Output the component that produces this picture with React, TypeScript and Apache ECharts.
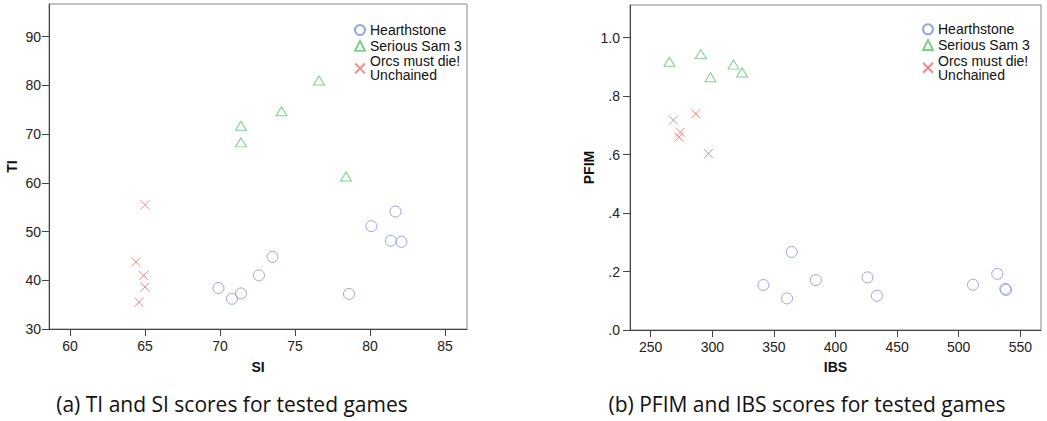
import React, { useEffect, useRef } from "react";
import * as echarts from "echarts";

// ---- Data: panel (a) TI vs SI ----
const siTicks = [60, 65, 70, 75, 80, 85];
const tiTicks = [30, 40, 50, 60, 70, 80, 90];
const hearthSI = [69.9, 70.8, 71.4, 72.6, 73.5, 78.6, 80.1, 81.7, 81.4, 82.1];
const hearthTI = [38.4, 36.2, 37.3, 41.0, 44.8, 37.2, 51.1, 54.1, 48.1, 47.9];
const samSI = [71.4, 71.4, 74.1, 76.6, 78.4];
const samTI = [71.7, 68.3, 74.7, 81.0, 61.3];
const orcsSI = [65.0, 64.4, 64.9, 65.0, 64.6];
const orcsTI = [55.5, 43.8, 41.0, 38.6, 35.5];

// ---- Data: panel (b) PFIM vs IBS ----
const ibsTicks = [250, 300, 350, 400, 450, 500, 550];
const pfimTicks = [0, 0.2, 0.4, 0.6, 0.8, 1.0];
const hearthIBS = [341.5, 360.7, 364.5, 384.0, 426.0, 433.6, 511.6, 531.3, 537.8, 538.4];
const hearthPFIM = [0.154, 0.108, 0.267, 0.171, 0.18, 0.117, 0.155, 0.192, 0.141, 0.137];
const samIBS = [265.2, 290.6, 298.5, 317.2, 324.2];
const samPFIM = [0.918, 0.944, 0.865, 0.908, 0.881];
const orcsIBS = [268.4, 274.1, 273.0, 286.6, 296.8];
const orcsPFIM = [0.718, 0.677, 0.66, 0.74, 0.604];

const seriesNames = ["Hearthstone", "Serious Sam 3", "Orcs must die!\nUnchained"];
const captions = ["(a) TI and SI scores for tested games", "(b) PFIM and IBS scores for tested games"];

const BLUE = "#7f92d3";
const GREEN = "#5dc46c";
const RED = "#f06a6a";
const AXIS = "#444";
const FONT = "'Liberation Sans', Arial, sans-serif";

const zip = (a: number[], b: number[]) => a.map((v, i) => [v, b[i]]);

const styles = [
  { symbol: "circle", symbolSize: 11, color: BLUE },
  { symbol: "triangle", symbolSize: [11, 9], color: GREEN },
  { symbol: "path://M0,0L10,10M10,0L0,10", symbolSize: 9, color: RED },
];

function makeSeries(idx: number, data: number[][][]) {
  return data.map((d, i) => ({
    type: "scatter",
    name: seriesNames[i],
    xAxisIndex: idx,
    yAxisIndex: idx,
    data: d,
    symbol: styles[i].symbol,
    symbolSize: styles[i].symbolSize,
    itemStyle: { color: "transparent", borderColor: styles[i].color, borderWidth: 1 },
    emphasis: { disabled: true },
  }));
}

const axisCommon = {
  axisLine: { show: true, lineStyle: { color: AXIS, width: 1 } },
  splitLine: { show: false },
  nameTextStyle: { fontFamily: FONT, fontWeight: "bold", fontSize: 14, color: "#111" },
};

export default function App() {
  const ref = useRef<HTMLDivElement>(null);
  useEffect(() => {
    if (!ref.current) return;
    const chart = echarts.init(ref.current, undefined, { renderer: "svg" });
    const legendCommon = {
      orient: "vertical",
      padding: 0,
      itemWidth: 10,
      itemHeight: 10,
      itemGap: 1.7,
      data: seriesNames,
      selectedMode: false,
      textStyle: { fontFamily: FONT, fontSize: 14, color: "#111", lineHeight: 14 },
    };
    chart.setOption({
      animation: false,
      grid: [
        { left: 49, top: 4, width: 418, height: 325, show: true, borderColor: "#888", borderWidth: 1 },
        { left: 630, top: 5, width: 411, height: 325, show: true, borderColor: "#888", borderWidth: 1 },
      ],
      legend: [
        { ...legendCommon, left: 354, top: 23 },
        { ...legendCommon, left: 922, top: 22.3 },
      ],
      xAxis: [
        {
          ...axisCommon,
          type: "value",
          gridIndex: 0,
          min: 58.6,
          max: 86.47,
          name: "SI",
          nameLocation: "middle",
          nameGap: 31,
          axisTick: { show: true, length: 7, customValues: siTicks, lineStyle: { color: AXIS } },
          axisLabel: { customValues: siTicks, margin: 10, fontFamily: FONT, fontSize: 14, color: "#222" },
        },
        {
          ...axisCommon,
          type: "value",
          gridIndex: 1,
          min: 233.2,
          max: 566.8,
          name: "IBS",
          nameLocation: "middle",
          nameGap: 30,
          axisTick: { show: true, length: 7, customValues: ibsTicks, lineStyle: { color: AXIS } },
          axisLabel: { customValues: ibsTicks, margin: 10, fontFamily: FONT, fontSize: 14, color: "#222" },
        },
      ],
      yAxis: [
        {
          ...axisCommon,
          type: "value",
          gridIndex: 0,
          min: 30,
          max: 96.7,
          name: "TI",
          nameLocation: "middle",
          nameGap: 30,
          axisTick: { show: true, length: 7, customValues: tiTicks, lineStyle: { color: AXIS } },
          axisLabel: { customValues: tiTicks, margin: 8, fontFamily: FONT, fontSize: 14, color: "#222" },
        },
        {
          ...axisCommon,
          type: "value",
          gridIndex: 1,
          min: 0,
          max: 1.112,
          name: "PFIM",
          nameLocation: "middle",
          nameGap: 34,
          axisTick: { show: true, length: 7, customValues: pfimTicks, lineStyle: { color: AXIS } },
          axisLabel: {
            customValues: pfimTicks,
            margin: 10,
            fontFamily: FONT,
            fontSize: 14,
            color: "#222",
            formatter: (v: number) => (Math.abs(v - 1) < 1e-9 ? "1.0" : "." + Math.round(v * 10)),
          },
        },
      ],
      series: [
        ...makeSeries(0, [zip(hearthSI, hearthTI), zip(samSI, samTI), zip(orcsSI, orcsTI)]),
        ...makeSeries(1, [zip(hearthIBS, hearthPFIM), zip(samIBS, samPFIM), zip(orcsIBS, orcsPFIM)]),
      ],
      graphic: [
        {
          type: "text",
          x: 232,
          y: 404,
          style: {
            text: captions[0],
            fontFamily: "'Open Sans', Lato, sans-serif",
            fontSize: 21,
            fill: "#111",
            textAlign: "center",
            textVerticalAlign: "middle",
          },
        },
        {
          type: "text",
          x: 807,
          y: 404,
          style: {
            text: captions[1],
            fontFamily: "'Open Sans', Lato, sans-serif",
            fontSize: 21,
            fill: "#111",
            textAlign: "center",
            textVerticalAlign: "middle",
          },
        },
      ],
    });
    return () => chart.dispose();
  }, []);
  return (
    <div
      ref={ref}
      style={{ position: "fixed", left: 0, top: 0, width: 1047, height: 421, background: "#fff" }}
    />
  );
}
